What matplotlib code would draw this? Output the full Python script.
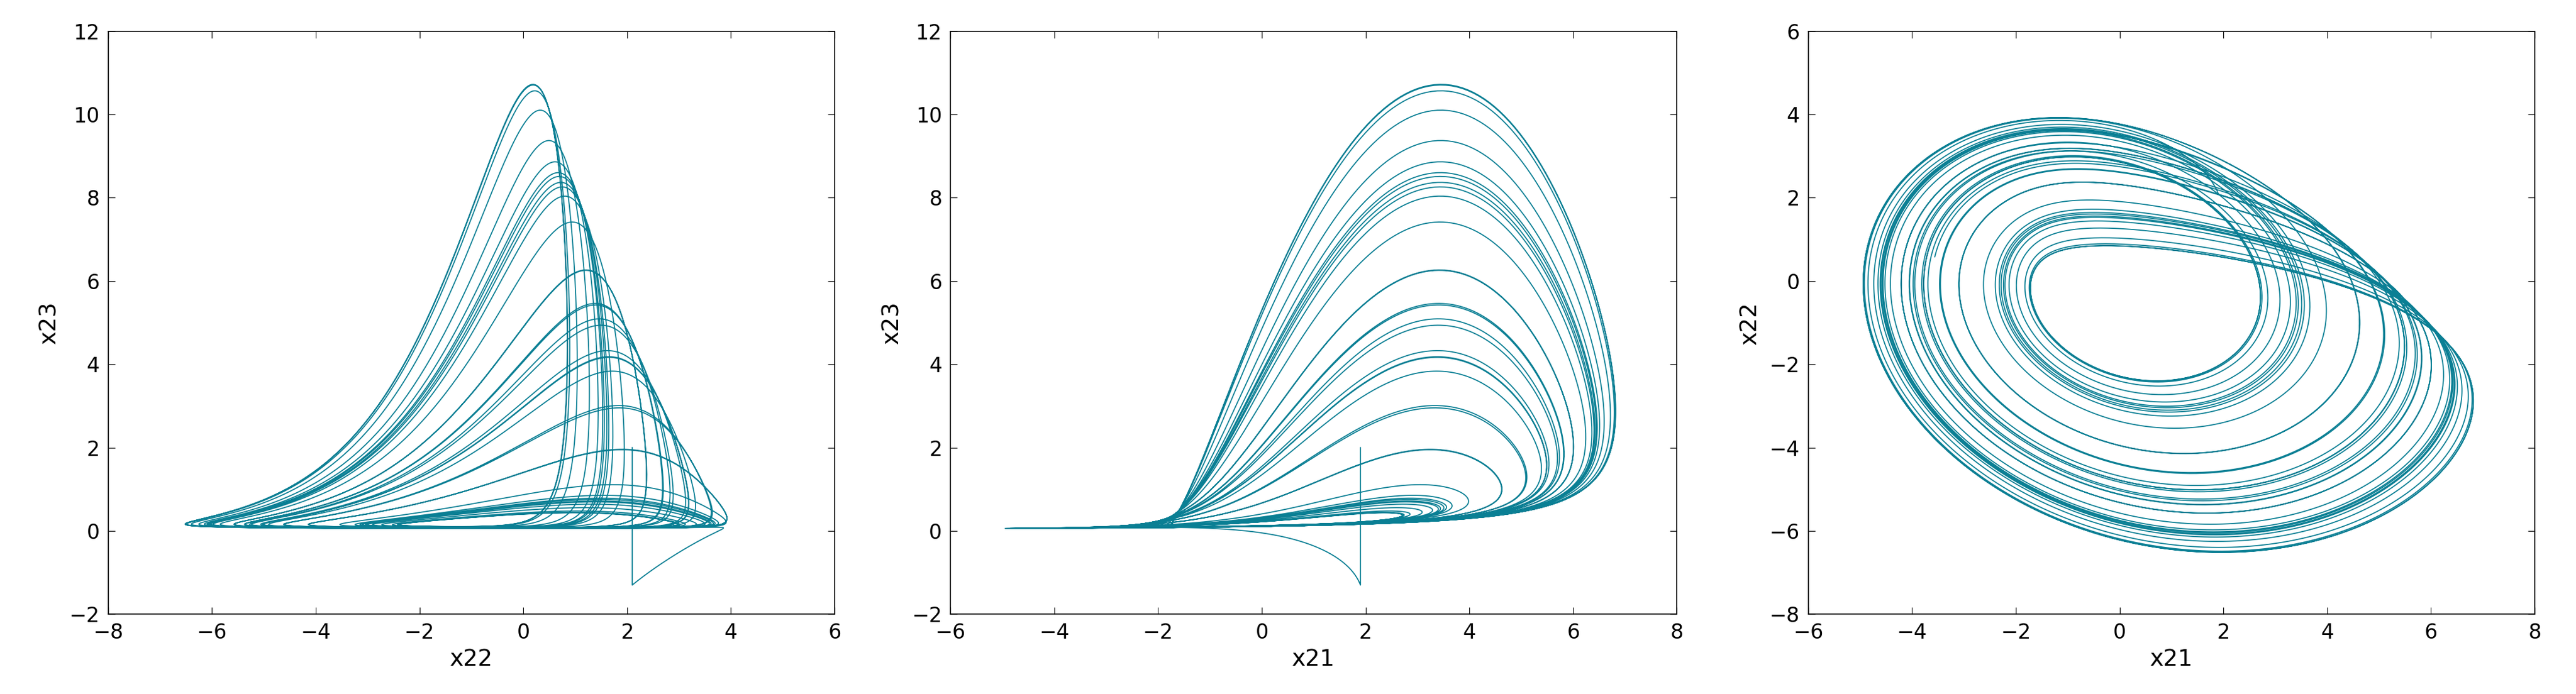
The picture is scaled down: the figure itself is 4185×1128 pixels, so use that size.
import numpy as np
import matplotlib.pyplot as plt

# Rossler-type system parameters; the trajectory is integrated from these
a, b, c = 0.3, 0.5, 3.5
start_jump = [1.9, 2.1, 2.0]   # state just before the reset
x0 = [1.9, 2.1, -1.3]          # initial state of the trajectory
dt = 0.01
n_steps = 22000

panel_x_labels = ["x22", "x21", "x21"]
panel_y_labels = ["x23", "x23", "x22"]
panel_xlim = [(-8, 6), (-6, 8), (-6, 8)]
panel_ylim = [(-2, 12), (-2, 12), (-8, 6)]
panel_xticks = [np.arange(-8, 7, 2), np.arange(-6, 9, 2), np.arange(-6, 9, 2)]
panel_yticks = [np.arange(-2, 13, 2), np.arange(-2, 13, 2), np.arange(-8, 7, 2)]


def f(s):
    x, y, z = s
    return np.array([-y - z, x + a * y, b + z * (x - c)])


def integrate():
    s = np.array(x0, dtype=float)
    out = np.empty((n_steps, 3))
    for i in range(n_steps):
        out[i] = s
        k1 = f(s)
        k2 = f(s + dt / 2 * k1)
        k3 = f(s + dt / 2 * k2)
        k4 = f(s + dt * k3)
        s = s + dt / 6 * (k1 + 2 * k2 + 2 * k3 + k4)
    return np.vstack([start_jump, out])


traj = integrate()
x21, x22, x23 = traj[:, 0], traj[:, 1], traj[:, 2]
pairs = [(x22, x23), (x21, x23), (x21, x22)]

fig = plt.figure(figsize=(41.85, 11.28), dpi=100)
lefts = [0.042, 0.369, 0.702]
width = 0.282
for i, (px, py) in enumerate(pairs):
    ax = fig.add_axes([lefts[i], 0.115, width, 0.84])
    ax.plot(px, py, color="#0a7f94", linewidth=1.3)
    ax.set_xlim(panel_xlim[i])
    ax.set_ylim(panel_ylim[i])
    ax.set_xticks(panel_xticks[i])
    ax.set_yticks(panel_yticks[i])
    ax.tick_params(labelsize=24, length=8, direction="in", top=True, right=True, pad=10)
    ax.set_xlabel(panel_x_labels[i], fontsize=27, labelpad=6)
    ax.set_ylabel(panel_y_labels[i], fontsize=27, labelpad=10)
    for sp in ax.spines.values():
        sp.set_linewidth(1.2)

fig.savefig("out.png", dpi=100)
